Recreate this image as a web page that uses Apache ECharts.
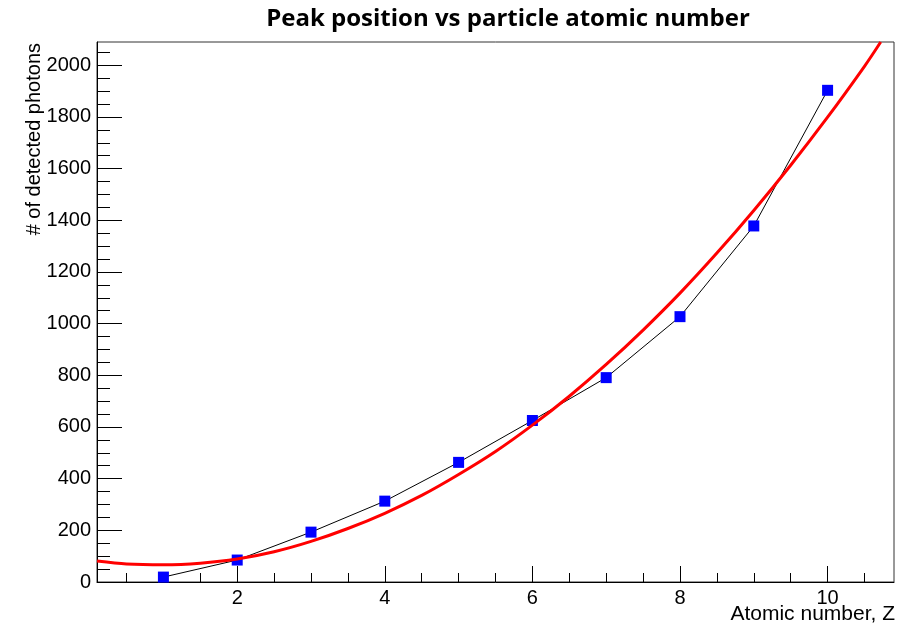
<!DOCTYPE html>
<html>
<head>
<meta charset="utf-8">
<script src="https://cdn.jsdelivr.net/npm/echarts@6/dist/echarts.min.js"></script>
<style>
  html, body { margin: 0; padding: 0; background: #ffffff; }
  #chart { width: 907px; height: 628px; }
</style>
</head>
<body>
<div id="chart"></div>
<script>
// Measured peak positions per atomic number
const atomicNumber = [1, 2, 3, 4, 5, 6, 7, 8, 9, 10];
const photons = [19, 85, 193, 313, 463, 625, 791, 1027, 1378, 1903];

// Fitted curve, sampled along Z
const fitZ = [0.1, 0.5, 1, 1.5, 2, 2.5, 3, 3.5, 4, 4.5, 5, 5.5, 6, 6.5, 7, 7.5, 8, 8.5, 9, 9.5, 10, 10.5, 10.72];
const fitPhotons = [81, 70, 67, 73, 89, 117, 157, 207, 266, 335, 416, 505, 607, 719, 842, 975, 1118, 1273, 1438, 1613, 1799, 1996, 2090];

// Axis ticks
const xMajorTicks = [2, 4, 6, 8, 10];
const xMinorTicks = [0.5, 1, 1.5, 2.5, 3, 3.5, 4.5, 5, 5.5, 6.5, 7, 7.5, 8.5, 9, 9.5, 10.5];
const yMajorTicks = [0, 200, 400, 600, 800, 1000, 1200, 1400, 1600, 1800, 2000];
const yMinorTicks = [50, 100, 150, 250, 300, 350, 450, 500, 550, 650, 700, 750, 850, 900, 950,
  1050, 1100, 1150, 1250, 1300, 1350, 1450, 1500, 1550, 1650, 1700, 1750, 1850, 1900, 1950, 2050];

const X_MIN = 0.1, X_MAX = 10.9, Y_MIN = 0, Y_MAX = 2090;
const AXIS_FONT = 'Arial, "Liberation Sans", Helvetica, sans-serif';

const chart = echarts.init(document.getElementById('chart'), null, { renderer: 'canvas' });

function labelStyle(ticks) {
  return {
    show: true, customValues: ticks, margin: 6, color: '#000',
    fontSize: 20, fontFamily: AXIS_FONT,
    formatter: (v) => String(v)
  };
}
function xAxisDef(ticks, len, labels) {
  return {
    type: 'value', min: X_MIN, max: X_MAX, position: 'bottom',
    axisLine: { show: labels, lineStyle: { color: '#000', width: 1 } },
    splitLine: { show: false },
    axisTick: { show: true, inside: true, length: len, customValues: ticks, lineStyle: { color: '#000', width: 1 } },
    axisLabel: labels ? labelStyle(ticks) : { show: false }
  };
}
function yAxisDef(ticks, len, labels) {
  return {
    type: 'value', min: Y_MIN, max: Y_MAX, position: 'left',
    axisLine: { show: labels, lineStyle: { color: '#000', width: 1 } },
    splitLine: { show: false },
    axisTick: { show: true, inside: true, length: len, customValues: ticks, lineStyle: { color: '#000', width: 1 } },
    axisLabel: labels ? labelStyle(ticks) : { show: false }
  };
}

chart.setOption({
  animation: false,
  backgroundColor: '#ffffff',
  grid: {
    left: 97, right: 13, top: 42, bottom: 46,
    show: true, borderColor: '#333', borderWidth: 1, backgroundColor: 'transparent'
  },
  xAxis: [xAxisDef(xMajorTicks, 16, true), xAxisDef(xMinorTicks, 9, false)],
  yAxis: [yAxisDef(yMajorTicks, 25, true), yAxisDef(yMinorTicks, 13, false)],
  graphic: [
    {
      type: 'text', x: 508, y: 19,
      style: { text: 'Peak position vs particle atomic number', font: 'bold 24px "Open Sans"',
        fill: '#000', textAlign: 'center', textVerticalAlign: 'middle' }
    },
    {
      type: 'text', x: 34, y: 43, rotation: Math.PI / 2,
      style: { text: '# of detected photons', font: '20px ' + AXIS_FONT,
        fill: '#000', textAlign: 'right', textVerticalAlign: 'middle' }
    },
    {
      type: 'text', x: 895, y: 614,
      style: { text: 'Atomic number, Z', font: '21px ' + AXIS_FONT,
        fill: '#000', textAlign: 'right', textVerticalAlign: 'middle' }
    }
  ],
  series: [
    {
      name: 'data', type: 'line', xAxisIndex: 0, yAxisIndex: 0,
      data: atomicNumber.map((z, i) => [z, photons[i]]),
      symbol: 'rect', symbolSize: 11, showSymbol: true,
      itemStyle: { color: '#0000ff' },
      lineStyle: { color: '#000', width: 1 },
      z: 2
    },
    {
      name: 'fit', type: 'line', xAxisIndex: 0, yAxisIndex: 0,
      data: fitZ.map((z, i) => [z, fitPhotons[i]]),
      smooth: 0.3, showSymbol: false, symbol: 'none',
      lineStyle: { color: '#ff0000', width: 3 },
      z: 3
    }
  ]
});
</script>
</body>
</html>
